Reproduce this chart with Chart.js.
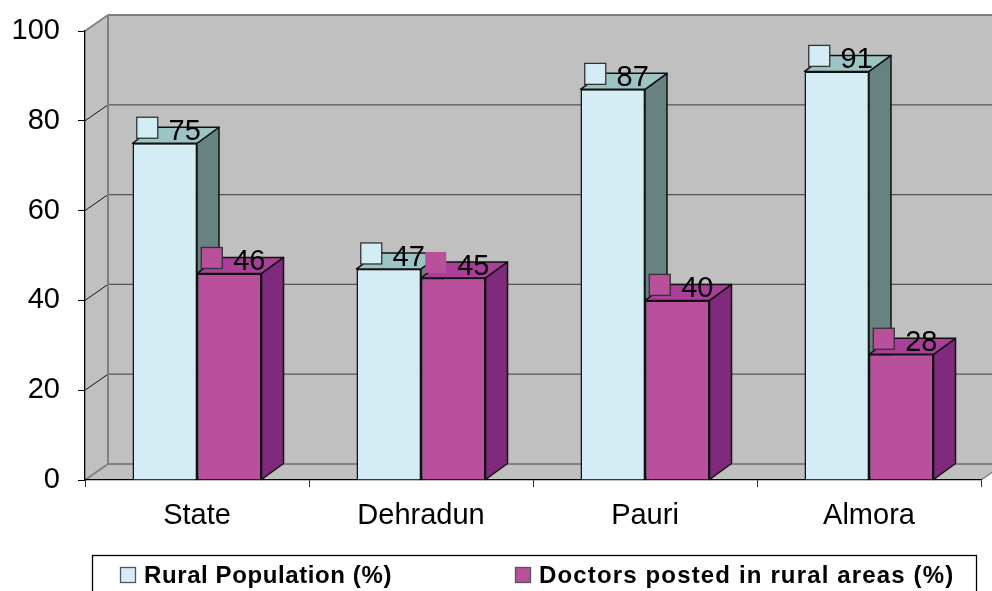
<!DOCTYPE html>
<html>
<head>
<meta charset="utf-8">
<style>
  html, body { margin: 0; padding: 0; background: #fff; overflow: hidden; }
  canvas { display: block; }
</style>
<script src="https://cdn.jsdelivr.net/npm/chart.js@4"></script>
</head>
<body>
<canvas id="chart" width="992" height="591"></canvas>
<script>
// Chart data
const categories = ['State', 'Dehradun', 'Pauri', 'Almora'];
const ruralPopulation = [75, 47, 87, 91];
const doctorsPosted = [46, 45, 40, 28];
const yTicks = [0, 20, 40, 60, 80, 100];

const FONT = '"Liberation Sans", Arial, sans-serif';
const WALL_DX = 23, WALL_DY = 16;
const BAR_DX = 22, BAR_DY = 16;

function poly(ctx, pts, fill, stroke, width) {
    ctx.beginPath();
    pts.forEach((p, i) => i ? ctx.lineTo(p[0], p[1]) : ctx.moveTo(p[0], p[1]));
    ctx.closePath();
    if (fill) { ctx.fillStyle = fill; ctx.fill(); }
    if (stroke) { ctx.strokeStyle = stroke; ctx.lineWidth = width; ctx.stroke(); }
}

function seg(ctx, x1, y1, x2, y2, color, width) {
    ctx.beginPath();
    ctx.moveTo(x1, y1);
    ctx.lineTo(x2, y2);
    ctx.strokeStyle = color;
    ctx.lineWidth = width;
    ctx.stroke();
}

// Grey back wall, side wall and floor behind the bars
const wallsPlugin = {
    id: 'walls',
    beforeDraw(chart) {
        const { ctx, chartArea: a, scales: { y } } = chart;
        const W = chart.width + 30;
        ctx.save();
        poly(ctx, [[a.left, a.top], [a.left + WALL_DX, a.top - WALL_DY], [W, a.top - WALL_DY],
                   [W, a.bottom - WALL_DY], [a.right + WALL_DX, a.bottom - WALL_DY],
                   [a.right, a.bottom], [a.left, a.bottom]], '#c0c0c0');
        yTicks.forEach(v => {
            const py = y.getPixelForValue(v);
            if (v > 0 && v < 100) {
                seg(ctx, a.left, py, a.left + WALL_DX, py - WALL_DY, '#111', 1);
                seg(ctx, a.left + WALL_DX, py - WALL_DY, W, py - WALL_DY, '#555', 1.2);
            }
        });
        const bx = a.left + WALL_DX;
        seg(ctx, bx, a.top - WALL_DY, W, a.top - WALL_DY, '#808080', 2);
        seg(ctx, bx, a.bottom - WALL_DY, W, a.bottom - WALL_DY, '#808080', 2);
        seg(ctx, bx, a.top - WALL_DY, bx, a.bottom - WALL_DY, '#808080', 2);
        seg(ctx, a.left, a.top, bx, a.top - WALL_DY, '#808080', 2);
        seg(ctx, a.left, a.bottom, bx, a.bottom - WALL_DY, '#808080', 2);
        seg(ctx, a.right, a.bottom, a.right + WALL_DX, a.bottom - WALL_DY, '#808080', 1.5);
        ctx.restore();
    }
};

// Top and side faces of each bar, placed from the bar elements
const barFacesPlugin = {
    id: 'barFaces',
    beforeDatasetsDraw(chart) {
        const { ctx } = chart;
        ctx.save();
        ctx.lineJoin = 'round';
        chart.data.datasets.forEach((ds, i) => {
            chart.getDatasetMeta(i).data.forEach(bar => {
                const l = bar.x - bar.width / 2, r = bar.x + bar.width / 2;
                const t = bar.y, b = bar.base;
                poly(ctx, [[r, t], [r + BAR_DX, t - BAR_DY], [r + BAR_DX, b - BAR_DY], [r, b]], ds.sideColor, '#111', 1.5);
                poly(ctx, [[l, t], [l + BAR_DX, t - BAR_DY], [r + BAR_DX, t - BAR_DY], [r, t]], ds.topColor, '#111', 1.5);
            });
        });
        ctx.restore();
    }
};

// Value labels with their legend key beside them
const valueLabelsPlugin = {
    id: 'valueLabels',
    afterDatasetsDraw(chart) {
        const { ctx } = chart;
        ctx.save();
        ctx.font = '29px ' + FONT;
        ctx.textAlign = 'center';
        ctx.textBaseline = 'middle';
        chart.data.datasets.forEach((ds, i) => {
            chart.getDatasetMeta(i).data.forEach((bar, j) => {
                ctx.fillStyle = ds.backgroundColor;
                ctx.strokeStyle = ds.keyBorder[j];
                ctx.lineWidth = 1.3;
                ctx.fillRect(bar.x - 28, bar.y - 26, 21, 21);
                ctx.strokeRect(bar.x - 28, bar.y - 26, 21, 21);
                ctx.fillStyle = '#000';
                ctx.fillText(ds.data[j], bar.x + 20, bar.y - 11);
            });
        });
        ctx.restore();
    }
};

// Boxed legend under the plot
const legendBoxPlugin = {
    id: 'legendBox',
    afterDraw(chart) {
        const { ctx } = chart;
        const keyX = [120.5, 515.5];
        const spacing = ['0.6px', '1.15px'];
        ctx.save();
        ctx.strokeStyle = '#000';
        ctx.lineWidth = 1.3;
        ctx.strokeRect(92.5, 555.5, 884, 50);
        ctx.font = 'bold 24px ' + FONT;
        ctx.textBaseline = 'middle';
        chart.data.datasets.forEach((ds, i) => {
            ctx.fillStyle = ds.backgroundColor;
            ctx.strokeStyle = '#555';
            ctx.fillRect(keyX[i], 567.5, 15, 15);
            ctx.strokeRect(keyX[i], 567.5, 15, 15);
            ctx.fillStyle = '#000';
            ctx.letterSpacing = spacing[i];
            ctx.fillText(ds.label, keyX[i] + 23.5, 576);
        });
        ctx.restore();
    }
};

new Chart(document.getElementById('chart').getContext('2d'), {
    type: 'bar',
    data: {
        labels: categories,
        datasets: [
            {
                label: 'Rural Population (%)',
                data: ruralPopulation,
                backgroundColor: '#d4ecf3',
                sideColor: '#678280',
                topColor: '#9cc4c4',
                keyBorder: ['#333', '#333', '#333', '#333'],
                borderColor: '#111',
                borderWidth: 1.5
            },
            {
                label: 'Doctors posted in rural areas (%)',
                data: doctorsPosted,
                backgroundColor: '#b8509b',
                sideColor: '#7f2a7d',
                topColor: '#a8409a',
                keyBorder: ['#333', 'transparent', '#333', '#333'],
                borderColor: '#111',
                borderWidth: 1.5
            }
        ]
    },
    options: {
        responsive: false,
        animation: false,
        layout: { padding: { top: 31, right: 11, left: 0, bottom: 0 } },
        datasets: { bar: { categoryPercentage: 0.576, barPercentage: 1 } },
        plugins: { legend: { display: false }, tooltip: { enabled: false } },
        scales: {
            x: {
                afterFit(scale) { scale.height = 111; },
                border: { color: '#000', width: 1.3 },
                grid: { drawOnChartArea: false, tickLength: 7, color: '#333', offset: true },
                ticks: { color: '#000', font: { family: FONT, size: 29 }, padding: 12, maxRotation: 0 }
            },
            y: {
                min: 0,
                max: 100,
                afterFit(scale) { scale.width = 85; scale.paddingTop = 0; scale.paddingBottom = 0; },
                afterBuildTicks(scale) { scale.ticks = yTicks.map(v => ({ value: v })); },
                border: { color: '#000', width: 1.3 },
                grid: { drawOnChartArea: false, tickLength: 7, color: '#000' },
                ticks: { color: '#000', font: { family: FONT, size: 29 }, padding: 18 }
            }
        }
    },
    plugins: [wallsPlugin, barFacesPlugin, valueLabelsPlugin, legendBoxPlugin]
});
</script>
</body>
</html>
